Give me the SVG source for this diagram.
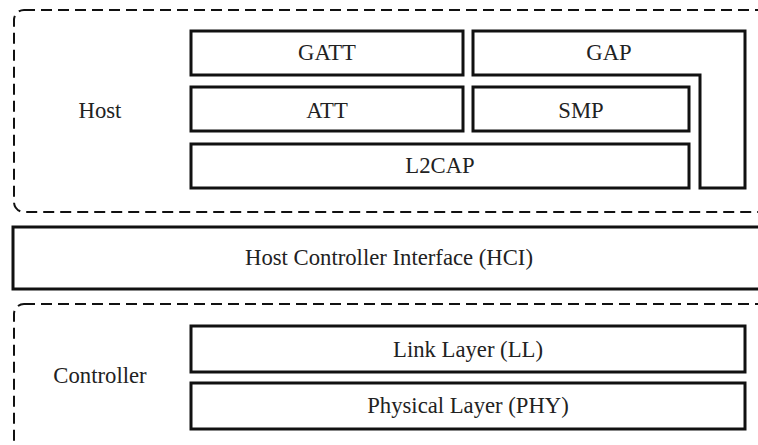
<svg xmlns="http://www.w3.org/2000/svg" width="758" height="445" viewBox="0 0 758 445">
<style>
.dash{fill:none;stroke:#111;stroke-width:2;stroke-dasharray:11 6}
.box{fill:#fff;stroke:#111;stroke-width:3}
.t{font-size:22.7px;fill:#222;text-anchor:middle}
</style>
<rect width="758" height="445" fill="#fff"/>
<g font-family="'Liberation Serif', 'DejaVu Serif', serif">
<g id="host">
<rect class="dash" x="14" y="10" width="770" height="202" rx="10"/>
<text class="t" x="100" y="118">Host</text>
</g>
<g id="gatt"><rect class="box" x="191" y="31" width="272" height="44"/><text class="t" x="327" y="60">GATT</text></g>
<g id="gap"><polygon class="box" points="473,31 745,31 745,188 700,188 700,75 473,75"/><text class="t" x="609" y="60">GAP</text></g>
<g id="att"><rect class="box" x="191" y="87" width="272" height="44"/><text class="t" x="327" y="118">ATT</text></g>
<g id="smp"><rect class="box" x="473" y="87" width="216" height="44"/><text class="t" x="581" y="118">SMP</text></g>
<g id="l2cap"><rect class="box" x="191" y="144" width="498" height="44"/><text class="t" x="440" y="173">L2CAP</text></g>
<g id="hci"><rect class="box" x="13" y="227" width="770" height="62"/><text class="t" x="389" y="265">Host Controller Interface (HCI)</text></g>
<g id="controller">
<rect class="dash" x="14" y="304" width="770" height="160" rx="10"/>
<text class="t" x="100" y="383">Controller</text>
</g>
<g id="ll"><rect class="box" x="191" y="326" width="554" height="46"/><text class="t" x="468" y="357">Link Layer (LL)</text></g>
<g id="phy"><rect class="box" x="191" y="383" width="554" height="46"/><text class="t" x="468" y="413">Physical Layer (PHY)</text></g>
</g>
<g id="connectors"></g>
</svg>
